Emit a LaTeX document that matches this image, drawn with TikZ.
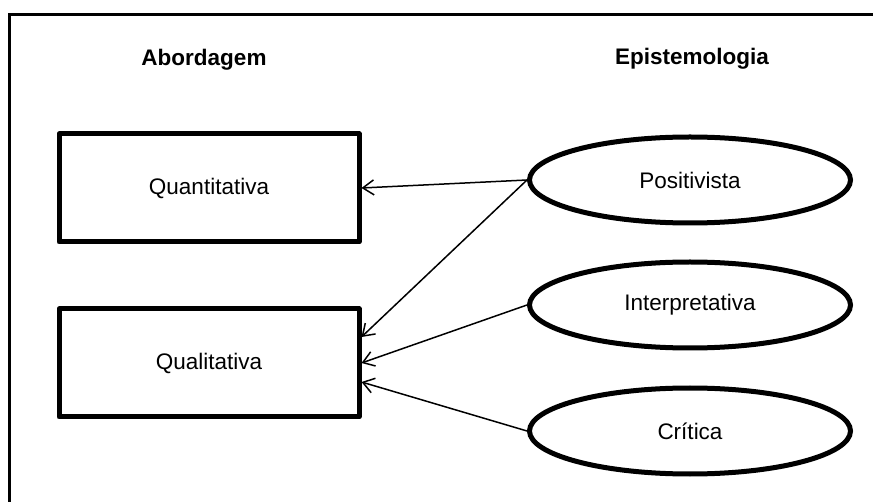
\documentclass[tikz,border=0pt]{standalone}
\usepackage{fontspec}
\setmainfont{Liberation Sans}
\usetikzlibrary{arrows.meta,shapes.geometric,positioning}
\tikzset{
  basebox/.style={align=center,font=\fontsize{22.5}{27}\selectfont,inner sep=0pt},
  headnode/.style={basebox,font=\fontsize{22.5}{27}\selectfont\bfseries},
  abordbox/.style={basebox,rectangle,draw=black,line width=5pt,line join=round,minimum width=300pt,minimum height=108pt},
  epistnode/.style={basebox,ellipse,draw=black,line width=5pt,minimum width=321pt,minimum height=86pt},
  framebox/.style={draw=black,line width=3pt},
  arr/.style={-{Straight Barb[length=11pt,width=15pt]},line width=1.5pt,color=black}
}

\begin{document}
\begin{tikzpicture}[x=1pt,y=-1pt]
  \useasboundingbox (0,0) rectangle (873,502);
  \clip (0,0) rectangle (873,502);

  %% Outer frame (runs off the right and bottom)
  \draw[framebox] (9.5,14.5) rectangle (900,530);

  %% Column headings
  \node[headnode] (abordagem) at (204,60) {Abordagem};
  \node[headnode] (epistemo) at (692,59) {Epistemologia};

  %% Abordagem boxes
  \node[abordbox] (quant) at (209,188) {Quantitativa};
  \node[abordbox] (qual) at (209,363) {Qualitativa};

  %% Epistemologia ellipses
  \node[epistnode] (posit) at (690,180) {Positivista};
  \node[epistnode] (interp) at (690,305) {Interpretativa};
  \node[epistnode] (critica) at (690,431) {Crítica};

  %% Connectors
  \draw[arr] (posit.west) -- (quant.east);
  \draw[arr] (posit.west) -- ([yshift=26pt]qual.east);
  \draw[arr] (interp.west) -- (qual.east);
  \draw[arr] (critica.west) -- ([yshift=-19pt]qual.east);
\end{tikzpicture}
\end{document}
